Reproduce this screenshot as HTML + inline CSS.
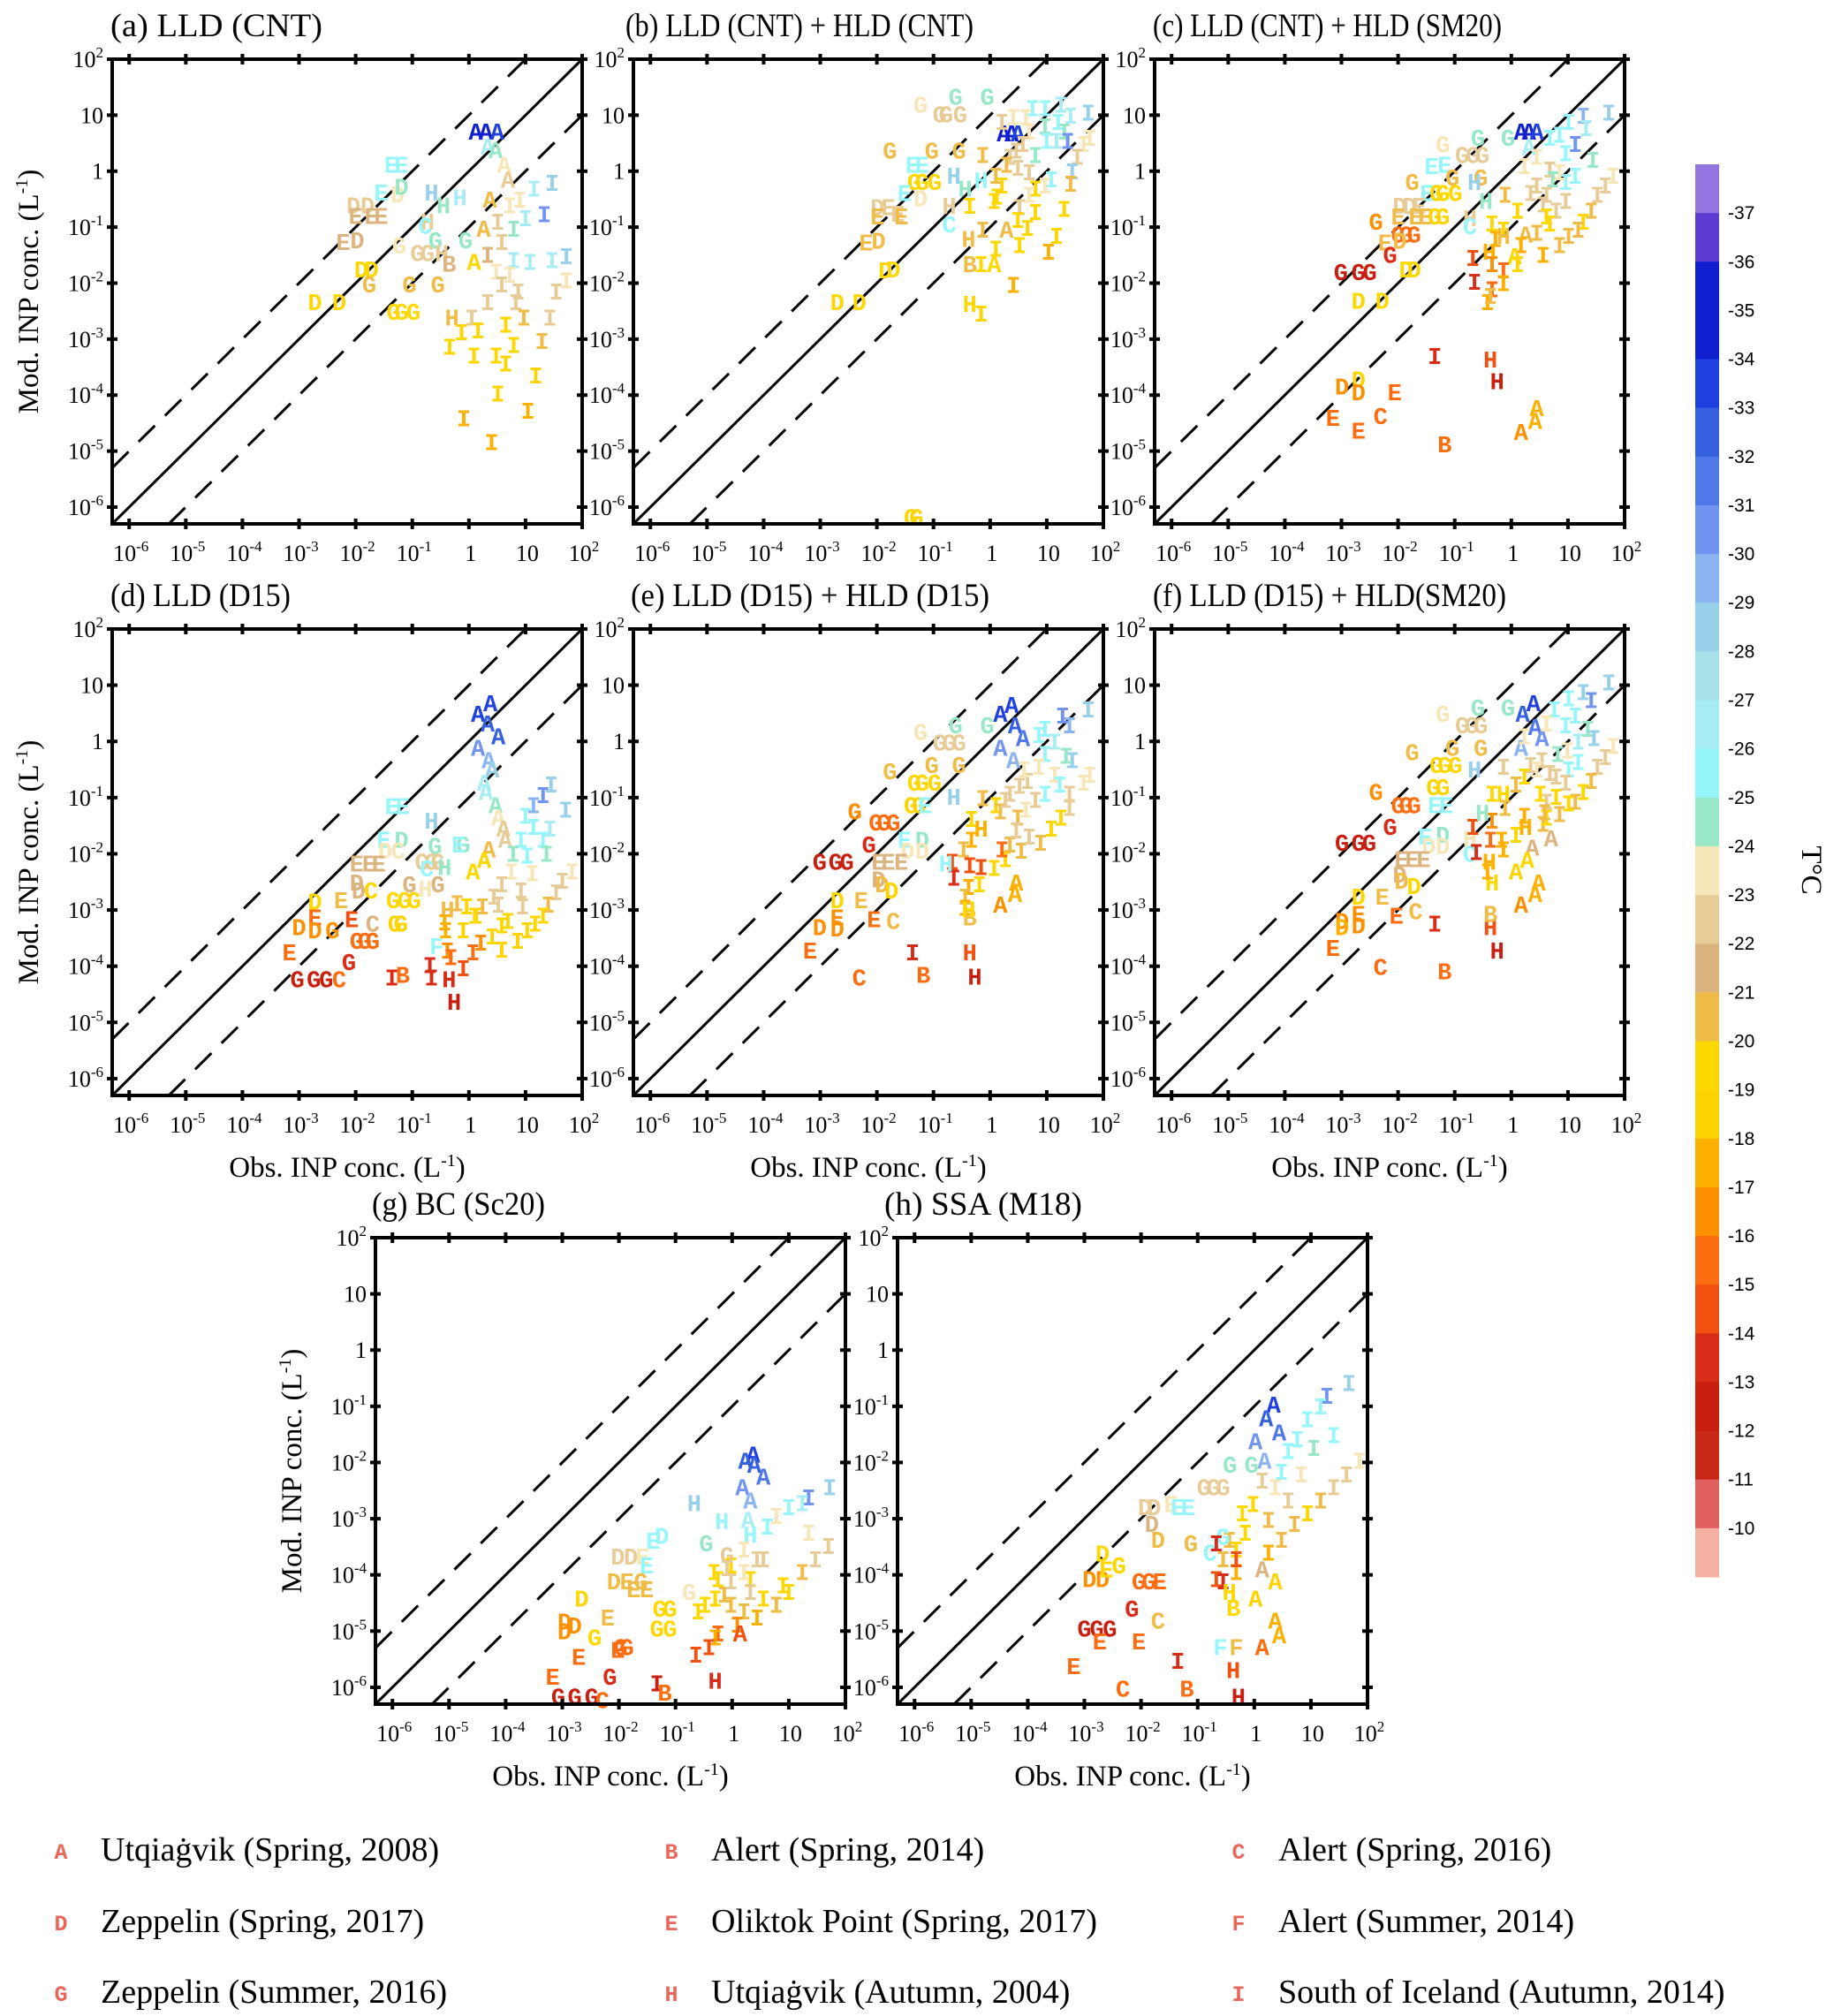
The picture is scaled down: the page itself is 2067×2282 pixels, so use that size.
<!DOCTYPE html>
<html><head><meta charset="utf-8">
<style>
html,body{margin:0;padding:0;background:#fff;}
svg{display:block;}
.tk{font-family:"Liberation Serif",serif;font-size:26px;fill:#000;}
.ttl{font-family:"Liberation Serif",serif;font-size:37px;fill:#000;}
.ax{font-family:"Liberation Serif",serif;font-size:33px;fill:#000;}
.mk{font-family:"Liberation Mono",monospace;font-weight:bold;font-size:27px;}
.lmk{font-family:"Liberation Mono",monospace;font-weight:bold;font-size:25px;}
.lg{font-family:"Liberation Serif",serif;font-size:38px;fill:#000;}
.cb{font-family:"Liberation Sans",sans-serif;font-size:21px;fill:#000;}
</style></head>
<body>
<svg id="fig" width="2067" height="2282" viewBox="0 0 2067 2282" xmlns="http://www.w3.org/2000/svg"></svg>
<script>
// ---- colour scale (cold -> warm) ----
const bandColors = ["#9476e0","#5b3bd0","#1020d0","#1020d0","#2040e0","#3560e0","#5078e8","#7094f0","#8cb4f0","#98d0ea","#a8e0ea","#a8ecf4","#96f6fc","#98e8c8","#f7e6b8","#e8cc98","#dcb480","#f0bc48","#fcd800","#fcd400","#fcb000","#fc9000","#fc6c10","#f05010","#d82c18","#c82010","#c82818","#e06060","#f4b0a0"];
const cbLabels = [-37,-36,-35,-34,-33,-32,-31,-30,-29,-28,-27,-26,-25,-24,-23,-22,-21,-20,-19,-18,-17,-16,-15,-14,-13,-12,-11,-10];
const tickExps = [-6,-5,-4,-3,-2,-1,0,1,2];
const legendLetters = ["A","B","C","D","E","F","G","H","I"];
const legendNames = ["Utqiaġvik (Spring, 2008)","Alert (Spring, 2014)","Alert (Spring, 2016)","Zeppelin (Spring, 2017)","Oliktok Point (Spring, 2017)","Alert (Summer, 2014)","Zeppelin (Summer, 2016)","Utqiaġvik (Autumn, 2004)","South of Iceland (Autumn, 2014)"];

// ---- data: [site letter, log10 obs, log10 mod, temperature °C] ----
const ptsA = [["A",0.12,0.66,-34.5],["A",0.3,0.66,-34.5],["A",0.5,0.66,-33.5],["A",0.33,0.39,-26.5],["A",0.47,0.33,-24.5],["A",0.62,0.07,-23.5],["A",0.69,-0.2,-22.5],["A",0.37,-0.56,-20.5],["A",0.26,-1.08,-20.5],["A",0.09,-1.67,-19.5],
["E",-1.37,0.07,-25.5],["E",-1.19,0.07,-25.5],["E",-1.55,-0.43,-25.5],["D",-1.26,-0.46,-23.5],["D",-1.19,-0.33,-24.5],["D",-2.04,-0.66,-22.5],["D",-1.79,-0.66,-22.5],["E",-2.0,-0.85,-21.5],["E",-1.72,-0.85,-21.5],["E",-1.55,-0.85,-21.5],["E",-2.22,-1.31,-21.5],["D",-1.97,-1.28,-21.5],["D",-1.9,-1.8,-19.5],["D",-1.72,-1.8,-19.5],["D",-2.72,-2.39,-19.5],["D",-2.29,-2.39,-19.5],
["G",-1.76,-2.07,-21],["G",-1.05,-2.07,-21],["G",-0.55,-2.07,-21],["G",-1.33,-2.56,-19.5],["G",-1.19,-2.56,-19.5],["G",-0.98,-2.56,-19.5],["G",-1.23,-1.38,-23.5],["G",-0.59,-1.28,-24.5],["G",-0.06,-1.28,-24.5],["G",-0.91,-1.51,-23],["G",-0.73,-1.51,-23],
["H",-0.48,-1.51,-22.5],["B",-0.35,-1.7,-21.5],["H",-0.66,-0.43,-28.5],["H",-0.45,-0.66,-24.5],["H",-0.16,-0.52,-26.5],["H",-0.73,-0.95,-23],["C",-0.77,-1.02,-25.5],
["I",1.47,-0.26,-28.5],["I",1.15,-0.36,-26.5],["I",0.9,-0.56,-23.5],["I",0.72,-0.66,-23.5],["I",1.33,-0.82,-30.5],["I",1.0,-0.89,-26.5],["I",0.79,-1.08,-24.5],["I",0.51,-0.95,-22.5],["I",0.58,-1.31,-22.5],["I",0.33,-1.54,-21.5],["I",1.72,-1.57,-28.5],["I",1.47,-1.64,-26.5],["I",1.08,-1.67,-26.5],["I",0.79,-1.64,-26.5],["I",0.48,-1.84,-23.5],["I",0.72,-1.9,-23.5],["I",1.72,-2.0,-23.5],["I",1.54,-2.2,-22.5],["I",0.87,-2.2,-22.5],["I",0.58,-2.07,-22.5],["I",0.33,-2.39,-22.5],["I",0.83,-2.39,-22.5],["I",1.43,-2.66,-22.5],["I",0.97,-2.66,-21],["I",0.65,-2.79,-19.5],["I",0.05,-2.66,-22.5],["H",-0.3,-2.66,-20.5],["I",-0.13,-2.92,-18.5],["I",0.16,-2.89,-19.5],["I",-0.34,-3.18,-19.5],["I",0.09,-3.34,-19.5],["I",0.48,-3.34,-19.5],["I",0.65,-3.48,-18.5],["I",0.79,-3.15,-19.5],["I",1.29,-3.08,-20.5],["I",1.18,-3.7,-18.5],["I",0.51,-4.02,-18.5],["I",1.04,-4.33,-17.5],["I",-0.09,-4.46,-17.5],["I",0.4,-4.89,-17.5]];

const ptsB = [["G",-1.23,1.14,-23.5],["G",-0.61,1.28,-24.5],["G",-0.05,1.28,-24.5],["G",-0.89,0.97,-23],["G",-0.78,0.97,-23],["G",-0.53,0.97,-23],["G",-1.77,0.32,-21],["G",-1.03,0.32,-21],["G",-0.55,0.32,-21],["E",-1.37,0.07,-25.5],["E",-1.2,0.07,-25.5],["G",-1.34,-0.24,-19.5],["G",-1.2,-0.24,-19.5],["G",-0.98,-0.24,-19.5],["E",-1.51,-0.44,-25.5],["D",-1.23,-0.53,-23.5],
["D",-1.99,-0.69,-22.5],["E",-1.8,-0.69,-22.5],["E",-1.63,-0.81,-22.5],["E",-1.99,-0.86,-21],["E",-1.57,-0.86,-21],["E",-2.19,-1.32,-21],["D",-1.97,-1.29,-21],["D",-1.85,-1.82,-19.5],["D",-1.71,-1.8,-19.5],["D",-2.7,-2.39,-19.5],["D",-2.31,-2.39,-19.5],["G",-1.4,-6.23,-18.5],["G",-1.3,-6.23,-18.5],
["H",-0.64,-0.13,-28.5],["H",-0.44,-0.36,-24.5],["H",-0.16,-0.21,-25.5],["H",-0.72,-0.67,-23],["C",-0.72,-1.0,-25.5],["A",0.24,0.63,-34.5],["A",0.38,0.63,-34.5],["A",0.49,0.63,-33.5],
["I",0.75,1.08,-25.5],["I",0.97,1.08,-25.5],["I",1.25,1.14,-26.5],["I",1.73,1.0,-28.5],["I",1.42,0.94,-26.5],["I",1.2,0.83,-25.5],["I",0.97,0.75,-24.5],["I",0.69,0.66,-23.5],["I",0.41,0.92,-23.5],["I",0.21,0.83,-22.5],["I",0.63,0.92,-23.5],["I",1.31,0.66,-24.5],["I",1.0,0.49,-25.5],["I",1.17,0.49,-26.5],["I",1.37,0.49,-30.5],["I",1.76,0.55,-23.5],["I",1.65,0.44,-23.5],["I",1.54,0.21,-22.5],["I",1.45,-0.05,-28.5],["I",1.42,-0.27,-21],["I",1.08,-0.19,-25.5],["I",0.97,-0.3,-23.5],["I",0.8,0.24,-24.5],["I",0.58,0.44,-22.5],["I",0.46,0.32,-22.5],["I",0.35,0.21,-22.5],["I",0.29,0.07,-21],["I",0.49,0.01,-22.5],["I",0.69,-0.07,-22.5],["I",0.8,-0.36,-19.5],["I",0.69,-0.47,-23.5],["I",0.52,-0.69,-22.5],["I",-0.13,0.24,-21],["I",-0.36,-0.67,-19.5],["I",0.1,-0.13,-21],["I",0.21,-0.3,-19.5],["I",0.12,-0.5,-19.5],["I",0.07,-0.58,-19.5],["I",0.8,-0.78,-19.5],["I",1.31,-0.72,-19.5],["I",0.49,-0.92,-19.5],["I",0.66,-1.06,-19.5],["I",1.17,-1.2,-19.5],["I",0.52,-1.37,-19.5],["I",1.03,-1.49,-17.5],["I",0.1,-1.43,-19.5],["I",-0.13,-1.09,-20.5],["A",0.29,-1.09,-20.5],["I",0.41,-2.08,-17.5],["I",-0.16,-1.71,-19.5],["A",0.07,-1.71,-19.5],["B",-0.36,-1.71,-21],["H",-0.38,-1.26,-21],["H",-0.36,-2.42,-19.5],["I",-0.16,-2.59,-18.5]];

const ptsC = [["G",-1.21,0.43,-23.5],["G",-0.59,0.55,-24.5],["G",-0.06,0.55,-24.5],["G",-0.87,0.24,-23],["G",-0.68,0.24,-23],["G",-0.51,0.24,-23],["E",-1.41,0.04,-25.5],["E",-1.18,0.07,-25.5],["G",-1.75,-0.24,-21],["G",-1.04,-0.16,-21],["G",-0.54,-0.16,-21],["H",-0.65,-0.24,-28.5],["E",-1.49,-0.44,-25.5],["G",-1.32,-0.44,-19.5],["G",-1.21,-0.44,-19.5],["G",-0.99,-0.44,-19.5],
["D",-1.97,-0.67,-22.5],["D",-1.8,-0.67,-22.5],["E",-1.63,-0.67,-22.5],["E",-2.0,-0.86,-21],["E",-1.69,-0.86,-21],["E",-1.52,-0.86,-21],["G",-1.35,-0.86,-19],["G",-1.21,-0.86,-19],["G",-2.39,-0.95,-16.5],["G",-2.0,-1.18,-15.5],["G",-1.86,-1.18,-15.5],["G",-1.72,-1.18,-15.5],["E",-2.23,-1.32,-21],["D",-1.97,-1.29,-21],["G",-2.14,-1.54,-13.5],["G",-3.01,-1.85,-12.5],["G",-2.7,-1.85,-12.5],["G",-2.5,-1.85,-12.5],["D",-1.86,-1.8,-19.5],["D",-1.72,-1.8,-19.5],["D",-2.7,-2.36,-19.5],["D",-2.28,-2.36,-19.5],
["H",-0.73,-0.89,-23],["C",-0.73,-1.03,-25.5],["H",-0.45,-0.58,-24.5],["A",0.17,0.66,-34.5],["A",0.31,0.66,-34.5],["A",0.45,0.66,-33.5],["A",0.31,0.38,-26.5],
["I",1.72,1.0,-28.5],["I",1.27,0.94,-29.5],["I",1.01,0.83,-25.5],["I",1.32,0.72,-26.5],["I",0.85,0.6,-25.5],["I",0.68,0.55,-25.5],["I",1.13,0.44,-30.5],["I",0.96,0.27,-25.5],["I",1.44,0.15,-24.5],["I",1.13,-0.13,-25.5],["I",0.96,-0.24,-25.5],["I",1.8,-0.13,-23.5],["I",1.66,-0.3,-22.5],["I",1.52,-0.47,-22.5],["I",1.41,-0.75,-21],["I",1.27,-0.95,-19.5],["I",1.18,-1.09,-20.5],["I",1.01,-1.2,-20.5],["I",0.85,-1.37,-20.5],["I",0.56,-1.54,-17.5],["I",0.23,0.04,-23.5],["I",0.45,0.21,-23.5],["I",0.68,-0.02,-22.5],["I",0.85,-0.07,-23.5],["I",0.73,-0.19,-24.5],["I",0.45,-0.3,-22.5],["I",0.34,-0.44,-22.5],["I",0.62,-0.47,-22.5],["I",0.96,-0.58,-22.5],["I",0.56,-0.64,-22.5],["I",0.79,-0.75,-22.5],["I",0.62,-0.86,-19.5],["I",-0.11,-0.47,-21],["I",0.11,-0.75,-19.5],["I",-0.34,-0.98,-19.5],["I",-0.14,-1.09,-19.5],["I",0.68,-0.98,-19.5],["I",0.45,-1.15,-20.5],["A",0.25,-1.18,-20.5],["H",-0.14,-1.2,-20.5],["I",-0.28,-1.26,-17.5],["I",0.17,-1.37,-17.5],["A",0.06,-1.57,-19.5],["I",0.11,-1.71,-19.5],["H",-0.39,-1.49,-17.5],["I",-0.68,-1.6,-14.5],["I",-0.34,-1.71,-16.5],["I",-0.14,-1.82,-15.5],["I",-0.65,-2.02,-13.5],["I",-0.14,-2.05,-17.5],["I",-0.34,-2.16,-15.5],["I",-0.42,-2.39,-17.5],["I",-0.37,-2.28,-20.5],
["I",-1.35,-3.35,-13.5],["H",-0.37,-3.41,-14.5],["H",-0.25,-3.8,-12.5],["D",-2.99,-3.89,-16.5],["D",-2.7,-3.77,-18.5],["D",-2.7,-4.0,-16.5],["E",-2.06,-4.0,-15.5],["E",-3.15,-4.45,-15.5],["E",-2.7,-4.68,-15.5],["C",-2.31,-4.42,-15.5],["B",-1.18,-4.93,-15.5],["A",0.45,-4.28,-17.5],["A",0.42,-4.51,-17.5],["A",0.17,-4.71,-16.5]];

const ptsD = [["A",0.38,0.63,-33.5],["A",0.16,0.44,-33.5],["A",0.33,0.27,-32.5],["A",0.52,0.04,-32.5],["A",0.16,-0.16,-30.5],["A",0.35,-0.38,-29.5],["A",0.41,-0.55,-28.5],["A",0.27,-0.78,-26.5],["A",0.3,-0.95,-26.5],["A",0.47,-1.18,-24.5],["A",0.52,-1.4,-23.5],["A",0.61,-1.6,-22.5],["A",0.64,-1.8,-22.5],["A",0.35,-1.97,-21],["A",0.27,-2.16,-19.5],["A",0.07,-2.36,-19.5],
["E",-1.36,-1.2,-25.5],["E",-1.17,-1.2,-25.5],["H",-0.66,-1.46,-28.5],["E",-1.5,-1.8,-25.5],["D",-1.19,-1.8,-24.5],["D",-1.48,-1.99,-23.5],["C",-1.25,-1.99,-23.5],["G",-0.6,-1.91,-24.5],["G",-0.1,-1.88,-24.5],["E",-0.18,-1.88,-25.5],["E",-1.98,-2.22,-22],["E",-1.76,-2.22,-22],["E",-1.59,-2.22,-22],["G",-0.83,-2.19,-23],["G",-0.66,-2.19,-23],["G",-0.55,-2.19,-23],["C",-0.74,-2.31,-25.5],["H",-0.43,-2.28,-24.5],
["D",-1.98,-2.56,-22],["D",-1.95,-2.7,-21.5],["C",-1.73,-2.7,-19.5],["G",-1.05,-2.59,-22],["H",-0.77,-2.67,-23.5],["G",-0.55,-2.59,-22],["G",-1.34,-2.87,-19.5],["G",-1.14,-2.87,-19.5],["G",-0.97,-2.87,-19.5],["D",-2.72,-2.9,-19.5],["E",-2.26,-2.87,-20.5],["E",-2.72,-3.18,-15.5],["E",-2.07,-3.21,-15],["C",-1.7,-3.29,-21.5],["G",-1.31,-3.29,-19],["G",-1.2,-3.29,-19],["D",-3.0,-3.35,-16.5],["D",-2.72,-3.41,-16.5],["G",-2.41,-3.41,-16.5],["G",-1.98,-3.6,-15.5],["G",-1.84,-3.6,-15.5],["G",-1.7,-3.6,-15.5],["E",-3.17,-3.8,-15.5],["G",-2.12,-3.97,-14],["G",-3.03,-4.28,-12.5],["G",-2.74,-4.28,-12.5],["G",-2.52,-4.28,-12.5],["C",-2.29,-4.28,-15.5],["I",-1.36,-4.25,-13.5],["B",-1.17,-4.2,-16],["F",-0.57,-3.69,-25.5],["I",-0.69,-4.03,-14],["I",-0.66,-4.25,-14],["H",-0.35,-4.28,-14],["I",-0.1,-4.08,-14.5],["H",-0.26,-4.68,-13],
["I",1.45,-0.81,-28.5],["I",1.31,-1.0,-30.5],["I",1.71,-1.26,-28.5],["I",1.14,-1.18,-29.5],["I",1.0,-1.37,-25.5],["I",1.43,-1.6,-26.5],["I",1.14,-1.57,-25.5],["I",0.92,-1.8,-25.5],["I",1.31,-1.8,-25.5],["I",1.03,-2.08,-25.5],["I",1.37,-2.05,-24.5],["I",0.78,-2.05,-24.5],["I",1.82,-2.36,-23.5],["I",1.12,-2.39,-23.5],["I",0.75,-2.36,-23.5],["I",1.65,-2.53,-22.5],["I",1.54,-2.73,-22.5],["I",0.92,-2.7,-22.5],["I",0.58,-2.59,-22.5],["I",0.44,-2.81,-22.5],["I",0.52,-2.95,-22.5],["I",0.95,-2.98,-22.5],["I",1.4,-2.95,-21],["I",1.31,-3.15,-19.5],["I",1.17,-3.29,-19.5],["I",1.03,-3.41,-19.5],["I",0.86,-3.6,-18.5],["I",0.58,-3.75,-18.5],["I",0.41,-3.52,-18.5],["I",0.69,-3.24,-19.5],["I",0.58,-3.32,-19.5],["I",0.21,-3.63,-16.5],["I",0.07,-3.8,-15.5],["I",-0.04,-2.98,-19.5],["I",0.1,-3.15,-19.5],["I",-0.1,-3.41,-18.5],["I",-0.21,-2.93,-20.5],["H",-0.38,-3.04,-20.5],["I",-0.43,-3.27,-17.5],["I",-0.41,-3.41,-17.5],["I",-0.38,-3.77,-16.5],["I",-0.32,-3.89,-15.5],["I",0.13,-3.15,-19.5],["I",0.24,-2.98,-20.5]];

const ptsE = [["A",0.38,0.6,-33.5],["A",0.18,0.44,-33.5],["A",0.44,0.24,-32.5],["A",0.58,0.01,-31.5],["A",0.18,-0.16,-30.5],["A",0.41,-0.38,-29.5],["G",-1.23,0.12,-23.5],["G",-0.61,0.24,-24.5],["G",-0.05,0.24,-24.5],["G",-0.89,-0.07,-23],["G",-0.72,-0.07,-23],["G",-0.55,-0.07,-23],["G",-1.77,-0.58,-21],["G",-1.03,-0.47,-21],["G",-0.55,-0.47,-21],["G",-1.34,-0.78,-19.5],["G",-1.2,-0.78,-19.5],["G",-0.98,-0.78,-19.5],["H",-0.64,-1.03,-29],["G",-1.4,-1.18,-18.5],["G",-1.26,-1.18,-18.5],["E",-1.15,-1.18,-25.5],["G",-2.39,-1.29,-16.5],["G",-2.02,-1.49,-15.5],["G",-1.88,-1.49,-15.5],["G",-1.71,-1.49,-15.5],["E",-1.51,-1.8,-25.5],["D",-1.2,-1.8,-24.5],["D",-1.46,-1.99,-23.5],["D",-1.2,-1.99,-23.5],["G",-2.14,-1.88,-13.5],["G",-3.01,-2.19,-12.5],["G",-2.73,-2.19,-12.5],["G",-2.53,-2.19,-12.5],["E",-1.97,-2.19,-22],["E",-1.8,-2.19,-22],["E",-1.57,-2.19,-22],["D",-1.97,-2.5,-21.5],["D",-1.91,-2.59,-21],["D",-1.74,-2.7,-19.5],["D",-2.7,-2.87,-19.5],["E",-2.28,-2.87,-20.5],["E",-2.7,-3.18,-16.5],["D",-3.01,-3.35,-16.5],["D",-2.7,-3.38,-16.5],["E",-2.05,-3.21,-15.5],["C",-1.71,-3.24,-21],["E",-3.18,-3.77,-15.5],["C",-2.31,-4.25,-15.5],["I",-1.37,-3.8,-13.5],["B",-1.18,-4.2,-16],["H",-0.36,-3.8,-14.5],["H",-0.27,-4.23,-13],["A",0.46,-2.56,-18],["A",0.44,-2.76,-17.5],["A",0.18,-2.95,-16.5],["B",-0.36,-3.18,-21],["I",-0.67,-2.19,-14.5],["I",-0.64,-2.47,-14],["H",-0.78,-2.22,-25.5],
["I",-0.13,-1.06,-21],["I",-0.33,-1.43,-19.5],["H",-0.16,-1.6,-17.5],["I",0.1,-1.18,-19.5],["I",0.18,-1.29,-20.5],["I",-0.33,-1.8,-17.5],["I",-0.47,-1.97,-20.5],["I",-0.36,-2.25,-15],["I",-0.16,-2.28,-15],["I",-0.19,-2.59,-19.5],["I",-0.38,-2.64,-17.5],["I",-0.44,-2.81,-20.5],["I",-0.44,-3.01,-17.5],["H",-0.38,-3.04,-19.5],["I",0.07,-2.3,-19.5],["I",0.27,-2.14,-19.5],["I",0.21,-1.97,-15.5],["I",0.35,-1.88,-20.5],
["I",1.73,0.52,-28.5],["I",1.28,0.41,-30.5],["I",1.4,0.24,-29.5],["I",0.97,0.18,-25.5],["I",0.86,0.07,-25.5],["I",1.14,-0.05,-26.5],["I",1.45,-0.38,-28.5],["I",1.34,-0.3,-24.5],["I",0.97,-0.27,-25.5],["I",0.86,-0.5,-23.5],["I",1.14,-0.64,-23.5],["I",1.23,-0.81,-25.5],["I",0.97,-0.98,-25.5],["I",0.8,-1.09,-22.5],["I",0.63,-1.26,-23.5],["I",0.49,-1.4,-20.5],["I",1.76,-0.64,-23.5],["I",1.65,-0.78,-23.5],["I",1.4,-0.98,-22.5],["I",1.4,-1.23,-22.5],["I",1.25,-1.4,-19.5],["I",1.08,-1.6,-19.5],["I",0.89,-1.85,-20.5],["I",0.55,-1.99,-20.5],["I",0.69,-1.74,-22.5],["I",0.46,-1.63,-22.5],["I",0.35,-0.98,-22.5],["I",0.52,-0.84,-22.5],["I",0.66,-0.75,-22.5],["I",0.27,-1.09,-22.5],["I",0.6,-0.55,-23.5]];

const ptsF = [["A",0.39,0.63,-33.5],["A",0.2,0.44,-32.5],["A",0.42,0.21,-31.5],["A",0.54,0.01,-30.5],["A",0.17,-0.16,-29.5],["G",-1.21,0.44,-23.5],["G",-0.59,0.55,-24.5],["G",-0.06,0.55,-24.5],["G",-0.87,0.24,-23],["G",-0.7,0.24,-23],["G",-0.54,0.24,-23],["G",-1.75,-0.24,-21],["G",-1.04,-0.16,-21],["G",-0.54,-0.16,-21],["G",-1.32,-0.47,-19.5],["G",-1.18,-0.47,-19.5],["G",-0.99,-0.47,-19.5],["H",-0.65,-0.55,-28.5],["G",-1.38,-0.86,-18.5],["G",-1.21,-0.86,-18.5],["G",-2.39,-0.95,-16.5],["G",-2.0,-1.18,-15.5],["G",-1.86,-1.18,-15.5],["G",-1.72,-1.18,-15.5],["E",-1.35,-1.18,-25.5],["E",-1.15,-1.18,-25.5],["G",-2.14,-1.57,-13.5],["G",-2.99,-1.85,-12.5],["G",-2.7,-1.85,-12.5],["G",-2.51,-1.85,-12.5],["E",-1.52,-1.74,-25.5],["D",-1.21,-1.71,-24.5],["D",-1.46,-1.91,-23.5],["D",-1.21,-1.91,-23.5],["H",-0.73,-1.77,-23.5],["C",-0.73,-2.05,-25.5],["E",-1.94,-2.14,-22],["E",-1.75,-2.14,-22],["E",-1.55,-2.14,-22],["D",-1.97,-2.42,-22],["D",-1.94,-2.53,-21],["D",-1.72,-2.62,-19.5],["D",-2.7,-2.81,-19.5],["E",-2.28,-2.81,-20.5],["D",-2.99,-3.24,-16.5],["D",-2.7,-3.32,-16.5],["E",-2.7,-3.12,-16.5],["D",-2.99,-3.35,-17.5],["E",-2.03,-3.15,-15.5],["C",-1.69,-3.07,-21],["E",-3.15,-3.72,-15.5],["C",-2.31,-4.06,-15.5],["B",-1.18,-4.14,-15.5],["I",-1.35,-3.29,-13.5],["H",-0.37,-3.35,-14.5],["H",-0.25,-3.77,-12.5],["B",-0.37,-3.12,-21],
["A",0.37,-1.94,-22],["A",0.7,-1.77,-22],["A",0.28,-2.16,-20],["A",0.08,-2.36,-19],["A",0.48,-2.56,-18],["A",0.42,-2.76,-17.5],["A",0.17,-2.95,-16.5],["I",-0.68,-1.57,-14.5],["I",-0.62,-2.02,-13.5],["H",-0.39,-2.19,-17.5],["H",-0.34,-2.56,-19.5],["I",-0.42,-2.36,-17.5],["I",-0.37,-1.8,-15.5],["I",-0.17,-1.8,-17.5],["I",-0.14,-1.97,-17.5],["I",-0.34,-1.46,-17],["H",-0.51,-1.32,-24.5],["I",0.08,-1.71,-19.5],["H",0.25,-1.57,-18],["I",0.23,-1.37,-17.5],["I",0.56,-1.51,-20.5],["H",-0.14,-0.98,-19.5],["I",-0.34,-0.98,-19.5],["I",-0.11,-1.23,-20.5],["I",0.08,-0.81,-20.5],["I",-0.14,-0.5,-22.5],["I",0.34,-0.47,-22.5],["I",0.54,-0.38,-22.5],["I",0.45,-0.55,-23.5],["I",0.23,-0.67,-19.5],["I",0.68,-0.61,-22.5],["I",0.79,-0.67,-22.5],["I",1.01,-0.55,-25.5],["I",1.18,-0.41,-25.5],["I",0.99,-0.21,-23.5],["I",0.82,-0.27,-24.5],["I",1.18,-0.05,-26.5],["I",1.35,0.18,-24.5],["I",1.46,0.01,-28.5],["I",0.96,0.24,-25.5],["I",1.13,0.41,-25.5],["I",0.76,0.52,-25.5],["I",1.01,0.72,-25.5],["I",1.27,0.83,-28.5],["I",1.41,0.69,-30.5],["I",1.72,1.0,-28.5],["I",0.62,0.27,-23.5],["I",0.23,0.04,-23.5],["I",1.8,-0.13,-23.5],["I",1.66,-0.33,-22.5],["I",1.52,-0.5,-22.5],["I",1.41,-0.75,-21],["I",1.27,-0.95,-19.5],["I",1.13,-1.12,-20.5],["I",1.01,-1.15,-19.5],["I",0.85,-1.34,-20.5],["I",0.62,-1.4,-19.5],["I",0.79,-1.03,-19.5],["I",0.62,-1.12,-22.5],["I",0.51,-0.98,-19.5],["I",0.96,-0.78,-22.5],["I",0.59,-1.31,-20.5]];

const ptsG = [["A",0.37,-1.91,-33.5],["A",0.23,-2.02,-32.5],["A",0.39,-2.09,-32.5],["A",0.55,-2.3,-31.5],["A",0.18,-2.49,-30.5],["A",0.32,-2.72,-29.5],["A",0.28,-3.07,-26.5],["H",-0.67,-2.77,-28.5],["H",-0.18,-3.09,-25.5],["H",0.32,-3.33,-25.5],
["I",1.72,-2.49,-28.5],["I",1.35,-2.67,-30.5],["I",1.24,-2.77,-26.5],["I",1.0,-2.84,-25.5],["I",0.78,-3.0,-23.5],["I",0.62,-3.19,-25.5],["I",1.35,-3.3,-23.5],["I",1.7,-3.53,-22.5],["I",1.47,-3.77,-22.5],["I",1.24,-4.0,-20.5],["I",0.9,-4.23,-19.5],["I",0.55,-4.47,-19.5],["I",0.21,-4.7,-20.5],["I",0.32,-4.12,-19.5],["I",0.55,-3.77,-22.5],["I",0.21,-3.6,-23.5],["I",-0.02,-3.88,-19.5],["I",-0.25,-4.12,-19.5],["I",-0.14,-4.4,-20.5],["I",-0.48,-4.58,-19.5],["I",0.09,-4.93,-16.5],["I",-0.25,-5.09,-15.5],["A",0.14,-5.09,-14.5],["I",0.44,-4.81,-17.5],["I",0.78,-4.58,-20.5],["I",1.0,-4.35,-19.5],
["D",-2.02,-3.72,-22.5],["D",-1.79,-3.72,-22.5],["E",-1.58,-3.72,-23.5],["E",-1.51,-3.88,-25.5],["E",-1.4,-3.44,-25.5],["D",-1.24,-3.35,-25.5],["G",-0.46,-3.49,-24.5],["G",-0.09,-3.7,-22.5],["G",-1.1,-4.65,-19.5],["G",-1.28,-4.65,-19.5],["G",-0.76,-4.35,-23.5],["D",-2.09,-4.16,-21],["E",-1.86,-4.16,-21],["G",-1.61,-4.16,-21],["E",-1.74,-4.3,-21],["E",-1.51,-4.3,-21],["D",-2.66,-4.47,-19.5],["E",-2.2,-4.81,-21],["G",-2.43,-5.16,-19.5],["D",-2.96,-4.88,-16.5],["D",-2.96,-5.05,-16.5],["D",-2.78,-4.95,-16.5],["G",-1.97,-5.33,-15.5],["G",-1.86,-5.33,-15.5],["E",-2.02,-5.38,-15.5],["G",-1.33,-5.0,-19.5],["G",-1.1,-5.0,-19.5],["E",-3.17,-5.86,-15.5],["E",-2.71,-5.51,-16],["G",-3.07,-6.21,-12.5],["G",-2.78,-6.21,-12.5],["G",-2.48,-6.21,-12.5],["C",-2.29,-6.28,-15.5],["G",-2.16,-5.86,-13.5],["I",-1.33,-5.98,-13],["B",-1.19,-6.14,-15.5],["H",-0.3,-5.93,-14],["I",-0.64,-5.47,-14.5],["I",-0.3,-5.16,-17.5],["I",-0.41,-5.33,-15],
["I",-0.02,-4.16,-22.5],["I",0.21,-4.0,-23.5],["I",0.44,-3.77,-22.5],["I",-0.3,-4.47,-19.5],["I",-0.6,-4.7,-19.5],["I",-0.02,-4.58,-20.5],["I",-0.32,-4.0,-19.5],["I",-0.09,-3.93,-22.5],["I",0.32,-4.35,-22.5]];

const ptsH = [["A",0.34,-1.02,-33.5],["A",0.21,-1.26,-32.5],["A",0.44,-1.51,-31.5],["A",0.02,-1.67,-30.5],["A",0.18,-2.02,-29.5],
["I",1.67,-0.63,-28.5],["I",1.28,-0.86,-30.5],["I",1.17,-1.05,-25.5],["I",0.94,-1.28,-25.5],["I",1.4,-1.56,-25.5],["I",1.05,-1.79,-24.5],["I",0.76,-1.63,-25.5],["I",0.6,-1.84,-25.5],["I",1.86,-2.02,-23.5],["I",1.63,-2.26,-22.5],["I",1.4,-2.49,-22.5],["I",1.17,-2.72,-20.5],["I",0.94,-2.95,-19.5],["I",0.71,-3.14,-20.5],["I",0.48,-3.42,-20.5],["I",0.25,-3.65,-17.5],["I",0.6,-2.72,-22.5],["I",0.37,-2.49,-23.5],["I",0.83,-2.26,-23.5],["I",0.48,-2.21,-25.5],["I",0.14,-2.37,-22.5],["I",-0.02,-2.79,-19.5],["I",0.25,-3.07,-20.5],["I",-0.21,-2.95,-19.5],["I",-0.44,-3.42,-20.5],["I",-0.55,-3.77,-20.5],["I",-0.32,-4.0,-17.5],["I",-0.67,-4.12,-15],["I",-0.32,-3.6,-19.5],["I",-0.16,-3.3,-19.5],
["G",-0.43,-2.09,-24.5],["G",-0.05,-2.09,-24.5],["G",-0.89,-2.49,-23],["G",-0.72,-2.49,-23],["G",-0.55,-2.49,-23],["D",-1.93,-2.84,-22.5],["D",-1.77,-2.84,-22.5],["E",-1.47,-2.79,-23.5],["E",-1.35,-2.84,-25.5],["E",-1.17,-2.84,-25.5],["D",-1.81,-3.14,-22],["D",-1.7,-3.42,-21],["G",-1.12,-3.49,-21],["G",-0.55,-3.37,-26],["C",-0.78,-3.65,-25.5],["D",-2.68,-3.67,-19.5],["G",-2.39,-3.88,-19.5],["D",-2.91,-4.12,-16.5],["D",-2.68,-4.12,-16.5],["E",-2.61,-3.95,-19.5],["G",-2.04,-4.16,-15.5],["G",-1.86,-4.16,-15.5],["E",-1.67,-4.16,-15.5],["G",-3.0,-5.0,-12.5],["G",-2.78,-5.0,-12.5],["G",-2.55,-5.0,-12.5],["E",-2.73,-5.23,-15.5],["G",-2.16,-4.65,-13.5],["C",-1.7,-4.86,-21],["E",-2.04,-5.23,-15.5],["E",-3.19,-5.67,-15.5],["C",-2.32,-6.07,-15.5],["I",-1.35,-5.58,-13.5],["B",-1.19,-6.07,-16],["H",-0.37,-5.74,-14.5],["H",-0.28,-6.21,-13],["A",0.14,-5.33,-16],["A",0.44,-5.12,-17.5],["A",0.37,-4.86,-18],["B",-0.37,-4.63,-20],["F",-0.6,-5.33,-25.5],["F",-0.32,-5.33,-21],["A",0.37,-4.16,-19],["A",0.02,-4.47,-19],["A",0.14,-3.95,-22],["I",-0.67,-3.49,-14],["I",-0.32,-3.77,-14.5],["I",-0.55,-4.16,-13.5],["H",-0.44,-4.35,-19.5]];

// ---- layout ----
const NS = "http://www.w3.org/2000/svg";
const svg = document.getElementById("fig");
const DMIN = -6.3, DMAX = 2;
function el(tag, attrs, parent) {
  const e = document.createElementNS(NS, tag);
  for (const k in attrs) e.setAttribute(k, attrs[k]);
  (parent || svg).appendChild(e);
  return e;
}
function colorForT(t) {
  let k = Math.floor(t + 38);
  k = Math.max(0, Math.min(bandColors.length - 1, k));
  return bandColors[k];
}
function addPow(textEl, exp) {
  if (exp === 0) { textEl.textContent = "1"; return; }
  if (exp === 1) { textEl.textContent = "10"; return; }
  const b = document.createElementNS(NS, "tspan"); b.textContent = "10"; textEl.appendChild(b);
  const s = document.createElementNS(NS, "tspan");
  s.setAttribute("dy", "-11"); s.setAttribute("font-size", "17"); s.textContent = String(exp);
  textEl.appendChild(s);
}
function drawPanel(id, title, titleX, titleW, pts, L, T, W, H, showX, showY) {
  const g = el("g", {});
  
  
  const sx = v => L + (v - DMIN) / (DMAX - DMIN) * W;
  const sy = v => T + H - (v - DMIN) / (DMAX - DMIN) * H;
  const l1 = el("line", {x1: sx(DMIN), y1: sy(DMIN), x2: sx(DMAX), y2: sy(DMAX), stroke: "#000", "stroke-width": 3}, g);
  
  
  const l2 = el("line", {x1: sx(DMIN), y1: sy(DMIN + 1), x2: sx(DMAX - 1), y2: sy(DMAX), stroke: "#000", "stroke-width": 3, "stroke-dasharray": "26,16"}, g);
  
  
  const l3 = el("line", {x1: sx(DMIN + 1), y1: sy(DMIN), x2: sx(DMAX), y2: sy(DMAX - 1), stroke: "#000", "stroke-width": 3, "stroke-dasharray": "26,16"}, g);
  
  
  pts.forEach(p => {
    const t = el("text", {x: sx(p[1]), y: sy(p[2]), class: "mk", fill: colorForT(p[3]), "text-anchor": "middle", "dominant-baseline": "central"}, g);
    
    
    t.textContent = p[0];
  });
  const fr = el("rect", {x: L, y: T, width: W, height: H, fill: "none", stroke: "#000", "stroke-width": 4}, g);
  
  
  tickExps.forEach(e => {
    const x = sx(e), y = sy(e);
    [[x, T - 6, x, T + 6], [x, T + H - 6, x, T + H + 6], [L - 6, y, L + 6, y], [L + W - 6, y, L + W + 6, y]].forEach(c => {
      const tk = el("line", {x1: c[0], y1: c[1], x2: c[2], y2: c[3], stroke: "#000", "stroke-width": 4}, g);
      
      
    });
    const tx = el("text", {x: x + 2, y: T + H + 42, class: "tk", "text-anchor": "middle"}, g);
    
    
    addPow(tx, e);
    const ty = el("text", {x: L - 10, y: y + 9, class: "tk", "text-anchor": "end"}, g);
    
    
    addPow(ty, e);
  });
  const tt = el("text", {x: titleX, y: T - 26, class: "ttl", textLength: titleW, lengthAdjust: "spacingAndGlyphs"}, g);
  
  
  tt.textContent = title;
  if (showY) {
    const cx = L - 84, cy = T + H / 2;
    const yt = el("text", {x: cx, y: cy, class: "ax", "text-anchor": "middle", transform: "rotate(-90 " + cx + " " + cy + ")"}, g);
    
    
    yt.innerHTML = 'Mod. INP conc. (L<tspan dy="-12" font-size="20">-1</tspan><tspan dy="12">)</tspan>';
  }
  if (showX) {
    const xt = el("text", {x: L + W / 2, y: T + H + 92, class: "ax", "text-anchor": "middle"}, g);
    
    
    xt.innerHTML = 'Obs. INP conc. (L<tspan dy="-12" font-size="20">-1</tspan><tspan dy="12">)</tspan>';
  }
}
const W = 532, H1 = 526;
drawPanel("a", "(a) LLD (CNT)", 125, 240, ptsA, 127, 67, W, H1, false, true);
drawPanel("b", "(b) LLD (CNT) + HLD (CNT)", 708, 394, ptsB, 717, 67, W, H1, false, false);
drawPanel("c", "(c) LLD (CNT) + HLD (SM20)", 1305, 395, ptsC, 1307, 67, W, H1, false, false);
drawPanel("d", "(d) LLD (D15)", 125, 204, ptsD, 127, 712, W, 528, true, true);
drawPanel("e", "(e) LLD (D15) + HLD (D15)", 714, 406, ptsE, 717, 712, W, 528, true, false);
drawPanel("f", "(f) LLD (D15) + HLD(SM20)", 1305, 400, ptsF, 1307, 712, W, 528, true, false);
drawPanel("g", "(g) BC (Sc20)", 421, 196, ptsG, 425, 1401, W, 528, true, true);
drawPanel("h", "(h) SSA (M18)", 1001, 224, ptsH, 1016, 1401, W, 528, true, false);

// ---- colour bar ----
const cbG = el("g", {});


const cbTop = 186, cbBot = 1785, cbX = 1919, cbW = 27;
const bh = (cbBot - cbTop) / bandColors.length;
bandColors.forEach((c, i) => {
  const r = el("rect", {x: cbX, y: cbTop + i * bh, width: cbW, height: bh + 0.5, fill: c}, cbG);
  
  
});
cbLabels.forEach((v, i) => {
  const t = el("text", {x: 1956, y: cbTop + (i + 1) * bh + 7, class: "cb"}, cbG);
  
  
  t.textContent = "-" + Math.abs(v);
});
const cbt = el("text", {x: 2040, y: 985, class: "ax", "text-anchor": "middle", transform: "rotate(90 2040 985)"}, cbG);


cbt.textContent = "T°C";

// ---- legend ----
const lg = el("g", {});


const colX = [69, 760, 1402], rowY = [2106, 2187, 2267];
legendLetters.forEach((L, i) => {
  const cx = colX[i % 3], cy = rowY[Math.floor(i / 3)];
  const m = el("text", {x: cx, y: cy - 2, class: "lmk", fill: "#e8665a", "text-anchor": "middle"}, lg);
  
  
  m.textContent = L;
  const t = el("text", {x: cx + 45, y: cy, class: "lg"}, lg);
  
  
  t.textContent = legendNames[i];
});
</script>
</body></html>
